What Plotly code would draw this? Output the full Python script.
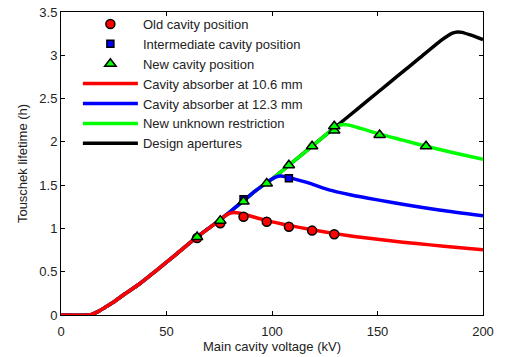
import plotly.graph_objects as go

# ---- data ----
# common rising part (shared by all curves)
rise_x = [0, 13, 15, 18, 21, 25, 30, 37, 45, 55, 65, 76]
rise_y = [0, 0, 0.01, 0.045, 0.09, 0.15, 0.24, 0.355, 0.51, 0.71, 0.91, 1.11]

red_x = [78, 80, 82, 85, 88, 93, 97.5, 108, 119, 130, 140, 150, 162, 175, 188, 200]
red_y = [1.15, 1.175, 1.185, 1.175, 1.155, 1.12, 1.09, 1.035, 0.985, 0.94, 0.905, 0.875, 0.84, 0.81, 0.78, 0.755]

blue_x = [80, 87, 92, 97, 100, 102, 104, 106, 110, 118, 127, 137, 150, 164, 180, 200]
blue_y = [1.19, 1.33, 1.43, 1.52, 1.57, 1.595, 1.605, 1.6, 1.575, 1.52, 1.445, 1.39, 1.33, 1.27, 1.21, 1.147]

green_x = [80, 87, 92, 97, 100, 108, 119, 125, 129.5, 132, 134, 137, 142, 151, 162, 173, 186, 200]
green_y = [1.19, 1.33, 1.43, 1.52, 1.57, 1.73, 1.95, 2.07, 2.16, 2.19, 2.2, 2.19, 2.155, 2.09, 2.02, 1.95, 1.875, 1.80]

black_x = [80, 87, 92, 97, 100, 108, 119, 130, 140, 150, 160, 170, 180, 183, 185.5, 188, 190, 194, 200]
black_y = [1.19, 1.33, 1.43, 1.52, 1.57, 1.73, 1.95, 2.17, 2.37, 2.57, 2.77, 2.97, 3.17, 3.22, 3.255, 3.27, 3.265, 3.235, 3.18]

old_x = [64.5, 75.5, 86.5, 97.5, 108, 119, 129.5]
old_y = [0.89, 1.06, 1.135, 1.078, 1.02, 0.975, 0.932]

mid_x = [86.5, 108]
mid_y = [1.336, 1.58]

new_x = [64.5, 75.5, 86.5, 97.5, 108, 119, 129.5, 129.5, 151, 173]
new_y = [0.9, 1.09, 1.31, 1.52, 1.73, 1.95, 2.13, 2.18, 2.08, 1.95]

x_ticks = [0, 50, 100, 150, 200]
y_ticks = [0, 0.5, 1, 1.5, 2, 2.5, 3, 3.5]
y_tick_labels = ["0", "0.5", "1", "1.5", "2", "2.5", "3", "3.5"]

line_names = ["Cavity absorber at 10.6 mm", "Cavity absorber at 12.3 mm",
              "New unknown restriction", "Design apertures"]
marker_names = ["Old cavity position", "Intermediate cavity position", "New cavity position"]

FONT = "Liberation Sans, Arial, Helvetica, sans-serif"
TXT = "#222222"
LW = 3.5

fig = go.Figure()

# lines: black bottom, then green, blue, red on top
for name, xs, ys, col, rank in [
    (line_names[3], black_x, black_y, "#000000", 7),
    (line_names[2], green_x, green_y, "#00FF00", 6),
    (line_names[1], blue_x, blue_y, "#0000FF", 5),
    (line_names[0], red_x, red_y, "#FF0000", 4),
]:
    fig.add_trace(go.Scatter(
        x=rise_x + xs, y=rise_y + ys, mode="lines", name=name,
        line=dict(color=col, width=LW, shape="spline", smoothing=0.6),
        legendrank=rank))

fig.add_trace(go.Scatter(
    x=old_x, y=old_y, mode="markers", name=marker_names[0],
    marker=dict(symbol="circle", size=9, color="#FF0000", line=dict(color="black", width=1.5)),
    legendrank=1))
fig.add_trace(go.Scatter(
    x=mid_x, y=mid_y, mode="markers", name=marker_names[1],
    marker=dict(symbol="square", size=7, color="#0000FF", line=dict(color="black", width=1.5)),
    legendrank=2))
fig.add_trace(go.Scatter(
    x=new_x, y=new_y, mode="markers", name=marker_names[2],
    marker=dict(symbol="triangle-up", size=10, color="#00FF00", line=dict(color="black", width=1.5)),
    legendrank=3))

axis_common = dict(
    showgrid=False, zeroline=False, showline=True, linecolor="black", linewidth=1,
    mirror="ticks", ticks="inside", ticklen=4, tickcolor="black", tickwidth=1,
    tickfont=dict(family=FONT, size=13, color=TXT), automargin=False,
)

fig.update_layout(
    width=506, height=357,
    margin=dict(l=61, r=23, t=12, b=42, autoexpand=False),
    paper_bgcolor="white", plot_bgcolor="white",
    font=dict(family=FONT, size=13, color=TXT),
    xaxis=dict(range=[0, 200], tickvals=x_ticks, ticklabelstandoff=4,
               title=dict(text="Main cavity voltage (kV)", standoff=4,
                          font=dict(family=FONT, size=13, color=TXT)),
               **axis_common),
    yaxis=dict(range=[0, 3.5], tickvals=y_ticks, ticktext=y_tick_labels,
               title=dict(text="Touschek lifetime (h)", standoff=8,
                          font=dict(family=FONT, size=13, color=TXT)),
               **axis_common),
    legend=dict(x=0.04, y=1.01, xanchor="left", yanchor="top",
                bgcolor="rgba(255,255,255,0)", borderwidth=0,
                font=dict(family=FONT, size=13, color=TXT),
                itemwidth=55, tracegroupgap=0),
    showlegend=True,
)

fig.write_html("out.html", config={"displayModeBar": False},
               post_script="document.body.style.margin='0';document.body.style.padding='0';")
